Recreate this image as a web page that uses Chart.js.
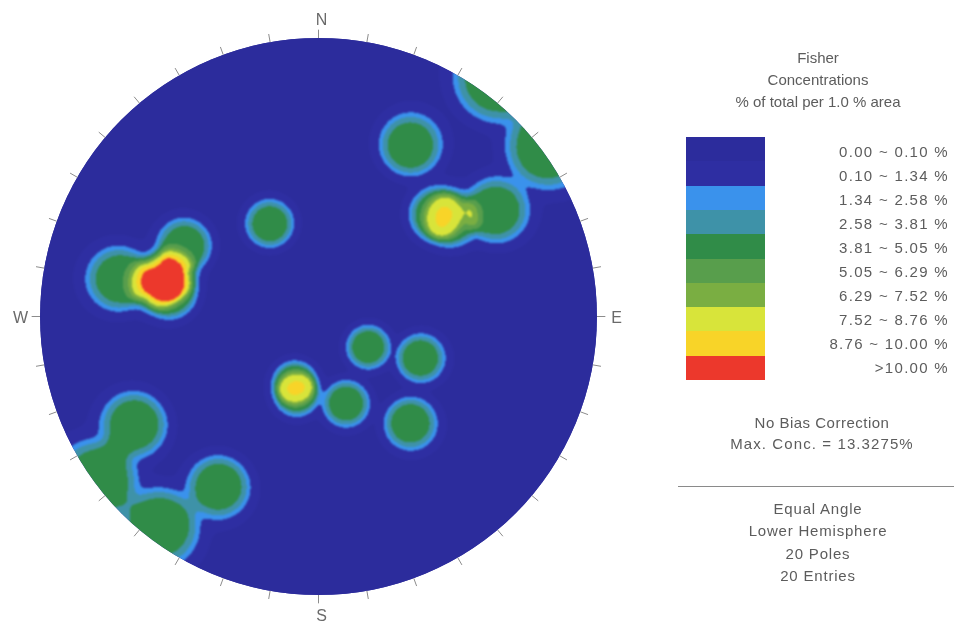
<!DOCTYPE html>
<html>
<head>
<meta charset="utf-8">
<script src="https://cdn.jsdelivr.net/npm/chart.js@4.4.1/dist/chart.umd.min.js"></script>
<style>
  html, body { margin: 0; padding: 0; background: #fff; }
  #wrap { position: relative; width: 954px; height: 627px; overflow: hidden;
          font-family: "Liberation Sans", Arial, sans-serif; color: #5c5c5c; }
  #net { position: absolute; left: 0; top: 0; }
  .ctr { position: absolute; white-space: nowrap; transform: translate(-50%, -50%); font-size: 15px; letter-spacing: 0.5px; }
  .lbl { position: absolute; white-space: nowrap; transform: translateY(-50%); right: 5px; font-size: 15px; letter-spacing: 1.3px; }
  .band { position: absolute; left: 686px; width: 79px; }
  .rule { position: absolute; left: 678px; width: 276px; top: 486px; height: 0; border-top: 1px solid #8a8a8a; }
</style>
</head>
<body>
<div id="wrap">
  <canvas id="net" width="954" height="627"></canvas>
  <div id="panel"></div>
</div>
<script>
// Pole orientations (trend / plunge, degrees)
const poleTrend  = [28.2, 332.3, 217.0, 233.5, 239.6, 210.4, 199.5, 195.7, 121.6, 112.2,
                    162.4, 139.3, 49.2, 53.5, 59.1, 281.7, 285.7, 279.4, 297.8, 280.7];
const polePlunge = [20.4, 48.9, 3.5, 1.0, 15.3, 19.6, 61.6, 58.1, 66.4, 47.0,
                    53.8, 36.5, 31.7, 29.1, 17.1, 28.7, 32.4, 33.5, 33.1, 18.1];

// Contour intervals (% of total per 1.0 % area) and their fills
const bandLimits = [0.00, 0.10, 1.34, 2.58, 3.81, 5.05, 6.29, 7.52, 8.76, 10.00];
const bandColors = ['#2c2c9c', '#2e2ea2', '#3a92ec', '#3e92a8', '#308c48',
                    '#589e4c', '#7aae42', '#d8e43a', '#f8d428', '#ec382c'];

// Compass labels and azimuths of the rim ticks
const compassLabels = ['N', 'E', 'S', 'W'];
const compassAzimuths = [0, 90, 180, 270];
const tickAzimuths = Array.from({ length: 36 }, (_, i) => i * 10);

// Text blocks of the side panel
const panelTitle = ['Fisher', 'Concentrations', '% of total per 1.0 % area'];
const panelNotes = ['No Bias Correction', 'Max. Conc. = 13.3275%'];
const panelProjection = ['Equal Angle', 'Lower Hemisphere', '20 Poles', '20 Entries'];

// Smoothed counting cap: plateau weight, cap half-angle and edge softness (radians)
const KERNEL_PEAK = 0.8887;
const KERNEL_CAP = 0.14;
const KERNEL_EDGE = 0.017;

const rad = Math.PI / 180;
const poleVectors = poleTrend.map((t, i) => {
  const tr = t * rad, pl = polePlunge[i] * rad;
  return [Math.cos(pl) * Math.sin(tr), Math.cos(pl) * Math.cos(tr), Math.sin(pl)];
});

// equal-angle (stereographic) lower-hemisphere projection of each pole
const polePoints = poleTrend.map((t, i) => {
  const r = Math.tan((90 - polePlunge[i]) * rad / 2);
  return { x: r * Math.sin(t * rad), y: r * Math.cos(t * rad) };
});

function kernelWeight(theta) {
  return KERNEL_PEAK / (1 + Math.exp((theta - KERNEL_CAP) / KERNEL_EDGE));
}

// axial data: a pole and its antipode are the same line, so |cos| is used
function concentration(X, Y) {
  let r2 = X * X + Y * Y;
  if (r2 > 1) { const s = 1 / Math.sqrt(r2); X *= s; Y *= s; r2 = 1; }
  const d = 1 + r2;
  const vx = 2 * X / d, vy = 2 * Y / d, vz = (1 - r2) / d;
  let sum = 0;
  for (const p of poleVectors) {
    const c = Math.min(1, Math.abs(vx * p[0] + vy * p[1] + vz * p[2]));
    sum += kernelWeight(Math.acos(c));
  }
  return 100 * sum / poleVectors.length;
}

function hexToRgb(h) {
  return [parseInt(h.slice(1, 3), 16), parseInt(h.slice(3, 5), 16), parseInt(h.slice(5, 7), 16)];
}
const bandRgb = bandColors.map(hexToRgb);

function bandIndex(v) {
  let k = 0;
  for (let i = 0; i < bandLimits.length; i++) if (v >= bandLimits[i]) k = i;
  return k;
}

const stereonet = {
  id: 'stereonet',
  beforeDatasetsDraw(chart) {
    const { ctx, chartArea: a, scales: { x: xs, y: ys } } = chart;
    const w = Math.round(a.right - a.left), h = Math.round(a.bottom - a.top);
    const off = document.createElement('canvas');
    off.width = w; off.height = h;
    const octx = off.getContext('2d');
    const img = octx.createImageData(w, h);
    for (let j = 0; j < h; j++) {
      const Y = ys.getValueForPixel(a.top + j + 0.5);
      for (let i = 0; i < w; i++) {
        const X = xs.getValueForPixel(a.left + i + 0.5);
        const c = bandRgb[bandIndex(concentration(X, Y))];
        const o = (j * w + i) * 4;
        img.data[o] = c[0]; img.data[o + 1] = c[1]; img.data[o + 2] = c[2]; img.data[o + 3] = 255;
      }
    }
    octx.putImageData(img, 0, 0);

    const cx = xs.getPixelForValue(0), cy = ys.getPixelForValue(0);
    const R = xs.getPixelForValue(1) - cx;
    ctx.save();
    ctx.beginPath();
    ctx.arc(cx, cy, R, 0, Math.PI * 2);
    ctx.clip();
    ctx.fillStyle = bandColors[0];
    ctx.fillRect(a.left, a.top, w, h);
    ctx.filter = 'blur(0.9px)';
    ctx.drawImage(off, a.left, a.top);
    ctx.restore();
  },
  afterDatasetsDraw(chart) {
    const { ctx, scales: { x: xs, y: ys } } = chart;
    ctx.save();
    ctx.strokeStyle = '#8c8c8c';
    ctx.lineWidth = 1;
    for (const az of tickAzimuths) {
      const s = Math.sin(az * rad), c = Math.cos(az * rad);
      ctx.beginPath();
      ctx.moveTo(xs.getPixelForValue(s * 1.0), ys.getPixelForValue(c * 1.0));
      ctx.lineTo(xs.getPixelForValue(s * 1.03), ys.getPixelForValue(c * 1.03));
      ctx.stroke();
    }
    ctx.fillStyle = '#6a6a6a';
    ctx.font = '16px "Liberation Sans", Arial, sans-serif';
    ctx.textAlign = 'center';
    ctx.textBaseline = 'middle';
    compassLabels.forEach((t, i) => {
      const az = compassAzimuths[i] * rad;
      const nudgeX = (i % 2 === 0) ? 3 : 0;
      ctx.fillText(t, xs.getPixelForValue(Math.sin(az) * 1.07) + nudgeX,
                   ys.getPixelForValue(Math.cos(az) * 1.07) + 2);
    });
    ctx.restore();
  }
};

new Chart(document.getElementById('net'), {
  type: 'scatter',
  data: {
    datasets: [{ label: 'Poles', data: polePoints, pointRadius: 0, pointHoverRadius: 0 }]
  },
  options: {
    responsive: false,
    animation: false,
    events: [],
    layout: { padding: { left: 40, top: 38, right: 357, bottom: 32 } },
    scales: {
      x: { type: 'linear', min: -1, max: 1, display: false },
      y: { type: 'linear', min: -1, max: 1, display: false }
    },
    plugins: { legend: { display: false }, tooltip: { enabled: false } }
  },
  plugins: [stereonet]
});

// side panel: titles, colour key and projection notes
const panel = document.getElementById('panel');
function addText(cls, text, styles) {
  const d = document.createElement('div');
  d.className = cls; d.textContent = text;
  Object.assign(d.style, styles);
  panel.appendChild(d);
  return d;
}
panelTitle.forEach((t, i) => addText('ctr', t, { left: '818px', top: (57 + i * 22) + 'px', letterSpacing: '0px' }));
const bandTop = 137, bandH = 24.3;
bandColors.forEach((c, i) => {
  const d = document.createElement('div');
  d.className = 'band';
  d.style.top = (bandTop + i * bandH) + 'px';
  d.style.height = (bandH + 0.5) + 'px';
  d.style.background = c;
  panel.appendChild(d);
  const lo = bandLimits[i], hi = bandLimits[i + 1];
  const text = hi !== undefined ? `${lo.toFixed(2)} ~ ${hi.toFixed(2)} %` : `>${lo.toFixed(2)} %`;
  addText('lbl', text, { top: (151 + i * 24) + 'px' });
});
panelNotes.forEach((t, i) => addText('ctr', t, { left: '822px', top: (422 + i * 21) + 'px', letterSpacing: i ? '1.1px' : '0.5px' }));
const rule = document.createElement('div'); rule.className = 'rule'; panel.appendChild(rule);
panelProjection.forEach((t, i) => addText('ctr', t, { left: '818px', top: (508 + i * 22.3) + 'px', letterSpacing: '0.8px' }));
</script>
</body>
</html>
